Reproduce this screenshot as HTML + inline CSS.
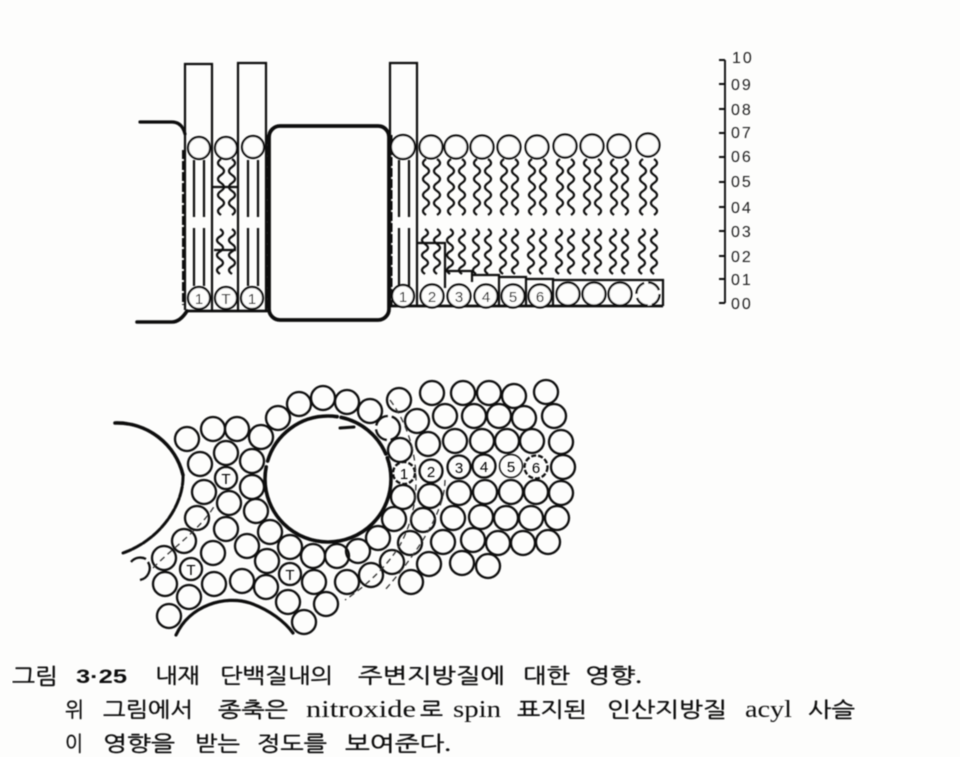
<!DOCTYPE html>
<html><head><meta charset="utf-8"><style>
html,body{margin:0;padding:0;background:#fdfdfc}
svg{display:block}
.k{font-family:"Liberation Serif","NanumGothic","Noto Sans CJK KR",serif;font-size:21px;fill:#111}
.s{font-family:"Liberation Sans",sans-serif;font-size:16px;fill:#222}
.n{font-family:"Liberation Sans",sans-serif;font-size:15px;fill:#000;text-anchor:middle}
</style></head><body>
<svg width="960" height="757" viewBox="0 0 960 757" xmlns="http://www.w3.org/2000/svg">
<defs>
<filter id="soft" x="0" y="0" width="100%" height="100%"><feGaussianBlur stdDeviation="0.45"/></filter>
<path id="ua" d="M0 0q-6 4 0 8t0 8t0 8t0 8t0 8t0 8t0 8" fill="none" stroke="#111" stroke-width="2.200"/>
<path id="ub" d="M0 0q6 4 0 8t0 8t0 8t0 8t0 8t0 8t0 8" fill="none" stroke="#111" stroke-width="2.200"/>
<path id="l" d="M0 0q6 4 0 7.500t0 7.500t0 7.500t0 7.500t0 7.500t0 7.500" fill="none" stroke="#111" stroke-width="2.200"/>
<g id="t"><use href="#ua" x="-5" y="159"/><use href="#ub" x="6" y="159"/><use href="#l" x="-6" y="229"/><use href="#l" x="6" y="229"/></g>
<g id="b" fill="none" stroke="#111" stroke-width="2.200"><path d="M-5 160V217M5 160V217M-5 228V286M5 228V286"/></g>
</defs>
<rect width="960" height="757" fill="#fdfdfc"/>
<g filter="url(#soft)">

<!-- top diagram: straight / wavy tails -->
<use href="#b" x="199"/><use href="#t" x="226"/><use href="#b" x="253"/><use href="#b" x="404"/>
<use href="#t" x="431"/><use href="#t" x="456"/><use href="#t" x="482"/><use href="#t" x="509"/><use href="#t" x="537"/><use href="#t" x="565"/><use href="#t" x="592"/><use href="#t" x="619"/><use href="#t" x="648"/>

<!-- bars -->
<g fill="none" stroke="#111" stroke-width="2.200">
<path d="M185 310V64H212V310"/><path d="M238 310V63H266V310"/><path d="M390 306V63H417V306"/>
<path d="M213 187H237M214 250H236"/>
<path d="M417 243H445V288M445 271H472V282M472 275H499V306M499 277H526V306M526 279H553V306M553 280H663V306"/>
<path d="M187 311H268M390 306H663" stroke-width="2.800"/>
</g>
<!-- stippled boundaries -->
<g fill="none" stroke="#111" stroke-width="4" stroke-dasharray="9 2">
<path d="M184 150V305M267 135V308M390.500 135V306"/>
</g>
<!-- thick membrane outlines -->
<g fill="none" stroke="#111" stroke-linecap="round">
<path d="M140 122H172Q182 122 185 134" stroke-width="3.200"/>
<path d="M137 322H172Q180 322 187 311" stroke-width="3.600"/>
<rect x="269" y="126" width="120" height="194" rx="11" stroke-width="3.800"/>
</g>

<!-- head groups -->
<g fill="#fdfdfc" stroke="#111" stroke-width="2.200">
<circle cx="199" cy="148" r="11"/><circle cx="226" cy="148" r="11"/><circle cx="253" cy="147" r="11"/><circle cx="403" cy="147" r="12"/>
<circle cx="431" cy="147" r="11.500"/><circle cx="456" cy="147" r="11.500"/><circle cx="482" cy="147" r="11.500"/><circle cx="509" cy="147" r="11.500"/><circle cx="537" cy="147" r="11.500"/><circle cx="565" cy="146" r="11.500"/><circle cx="592" cy="146" r="11.500"/><circle cx="619" cy="146" r="11.500"/><circle cx="648" cy="145" r="11.500"/>
<circle cx="199" cy="298" r="11"/><circle cx="226" cy="298" r="11"/><circle cx="252" cy="298" r="11"/><circle cx="403" cy="296" r="11"/>
<circle cx="432" cy="296" r="11.500"/><circle cx="459" cy="296" r="11.500"/><circle cx="486" cy="296" r="11.500"/><circle cx="513" cy="296" r="11.500"/><circle cx="540" cy="296" r="11.500"/><circle cx="568" cy="294" r="11.500"/><circle cx="594" cy="294" r="11.500"/><circle cx="620" cy="294" r="11.500"/><circle cx="648" cy="294" r="11.500" stroke-dasharray="14 4"/>
</g>
<text class="n" x="199" y="304">1</text><text class="n" x="226" y="304">T</text><text class="n" x="252" y="304">1</text><text class="n" x="403" y="302">1</text><text class="n" x="432" y="302">2</text><text class="n" x="459" y="302">3</text><text class="n" x="486" y="302">4</text><text class="n" x="513" y="302">5</text><text class="n" x="540" y="302">6</text>

<!-- scale -->
<path d="M725 60V303M719 60H725M719 84H725M719 109H725M719 133H725M719 157H725M719 182H725M719 207H725M719 231H725M719 256H725M719 279H725M719 303H725" fill="none" stroke="#111" stroke-width="1.900"/>
<g letter-spacing="2">
<text class="s" x="732" y="63">10</text><text class="s" x="731" y="90">09</text><text class="s" x="731" y="115">08</text><text class="s" x="731" y="138">07</text><text class="s" x="731" y="162">06</text><text class="s" x="731" y="187">05</text><text class="s" x="731" y="213">04</text><text class="s" x="731" y="237">03</text><text class="s" x="731" y="262">02</text><text class="s" x="731" y="285">01</text><text class="s" x="731" y="309">00</text>
</g>

<!-- lower diagram: large proteins -->
<g fill="none" stroke="#111" stroke-linecap="round">
<path d="M115 423A68 68 0 0 1 183 475" stroke-width="3.600"/>
<path d="M183 475C184 505 160 540 123 553" stroke-width="3" stroke-dasharray="10 2"/>
<path d="M176 635C190 605 225 595 250 603C270 610 285 622 293 633" stroke-width="3.200"/>
<circle cx="328" cy="479" r="63" stroke-width="3.600" stroke-dasharray="210 6 90 4 60 4"/>
<path d="M340 428L354 427" stroke-width="3"/>
</g>
<!-- lower diagram: lipids -->
<g fill="none" stroke="#111" stroke-width="2.300">
<circle cx="187" cy="439" r="12"/><circle cx="213" cy="429" r="12"/><circle cx="237" cy="429" r="12"/><circle cx="261" cy="437" r="12"/><circle cx="278" cy="418" r="12"/><circle cx="299" cy="404" r="12"/><circle cx="323" cy="398" r="12"/><circle cx="347" cy="402" r="12"/>
<circle cx="200" cy="464" r="12"/><circle cx="226" cy="453" r="12"/><circle cx="252" cy="461" r="12"/><circle cx="226" cy="478" r="11"/><circle cx="252" cy="487" r="12"/><circle cx="204" cy="492" r="12"/><circle cx="229" cy="503" r="12"/><circle cx="256" cy="511" r="12"/><circle cx="197" cy="518" r="12"/><circle cx="226" cy="529" r="12"/><circle cx="270" cy="532" r="12"/><circle cx="184" cy="541" r="12"/><circle cx="247" cy="546" r="12"/><circle cx="213" cy="553" r="12"/><circle cx="290" cy="547" r="12"/><circle cx="164" cy="558" r="12"/><circle cx="267" cy="561" r="12"/><circle cx="313" cy="556" r="12"/><circle cx="337" cy="556" r="12"/><circle cx="191" cy="569" r="11"/><circle cx="290" cy="574" r="11"/><circle cx="165" cy="584" r="12"/><circle cx="214" cy="584" r="12"/><circle cx="242" cy="581" r="12"/><circle cx="266" cy="587" r="12"/><circle cx="314" cy="582" r="12"/><circle cx="347" cy="582" r="12"/><circle cx="189" cy="597" r="12"/><circle cx="288" cy="602" r="12"/><circle cx="326" cy="604" r="12"/><circle cx="169" cy="616" r="12"/><circle cx="304" cy="622" r="12"/>
<path d="M131 562A12 12 0 0 1 146 559M148 562A12 12 0 0 1 140 580"/>
<circle cx="370" cy="411" r="12"/><circle cx="399" cy="400" r="12"/><circle cx="432" cy="393" r="12"/><circle cx="463" cy="393" r="12"/><circle cx="489" cy="393" r="12"/><circle cx="514" cy="396" r="12"/><circle cx="546" cy="392" r="12"/>
<circle cx="388" cy="428" r="12" stroke-dasharray="16 4"/><circle cx="417" cy="421" r="12"/><circle cx="445" cy="416" r="12"/><circle cx="474" cy="416" r="12"/><circle cx="499" cy="416" r="12"/><circle cx="524" cy="418" r="12"/><circle cx="554" cy="416" r="12"/>
<circle cx="400" cy="450" r="12"/><circle cx="428" cy="444" r="12"/><circle cx="455" cy="441" r="12"/><circle cx="482" cy="441" r="12"/><circle cx="507" cy="441" r="12"/><circle cx="532" cy="441" r="12"/><circle cx="561" cy="442" r="12"/>
<circle cx="404" cy="473" r="11" stroke-dasharray="5 2"/><circle cx="431" cy="471" r="11.500"/><circle cx="459" cy="467" r="11.500"/><circle cx="484" cy="466" r="11.500"/><circle cx="511" cy="466" r="11.500" stroke-width="1.400"/><circle cx="536" cy="467" r="11.500" stroke-dasharray="5 2"/><circle cx="563" cy="467" r="12"/>
<circle cx="403" cy="497" r="12"/><circle cx="430" cy="496" r="12"/><circle cx="459" cy="493" r="12"/><circle cx="485" cy="492" r="12"/><circle cx="511" cy="492" r="12"/><circle cx="536" cy="492" r="12"/><circle cx="561" cy="493" r="12"/>
<circle cx="394" cy="519" r="12"/><circle cx="423" cy="520" r="12"/><circle cx="453" cy="518" r="12"/><circle cx="481" cy="517" r="12"/><circle cx="506" cy="518" r="12"/><circle cx="531" cy="518" r="12"/><circle cx="557" cy="518" r="12"/>
<circle cx="378" cy="538" r="12"/><circle cx="410" cy="543" r="12"/><circle cx="443" cy="542" r="12"/><circle cx="473" cy="540" r="12"/><circle cx="498" cy="543" r="12"/><circle cx="523" cy="543" r="12"/><circle cx="548" cy="542" r="12"/>
<circle cx="358" cy="551" r="12"/><circle cx="392" cy="562" r="12"/><circle cx="429" cy="564" r="12"/><circle cx="462" cy="563" r="12"/><circle cx="488" cy="566" r="12"/>
<circle cx="371" cy="575" r="12"/><circle cx="411" cy="582" r="12"/>
</g>
<!-- dashed annulus boundaries -->
<g fill="none" stroke="#333" stroke-width="1.300" stroke-dasharray="6 4">
<path d="M390 400C420 440 425 500 400 545C385 570 360 590 345 600"/>
<path d="M445 480C445 510 420 550 385 590"/>
<path d="M153 568C170 550 200 530 215 505"/>
</g>
<text class="n" x="226" y="484">T</text><text class="n" x="191" y="575">T</text><text class="n" x="290" y="580">T</text>
<text class="n" x="404" y="479">1</text><text class="n" x="431" y="477">2</text><text class="n" x="459" y="473">3</text><text class="n" x="484" y="472">4</text><text class="n" x="511" y="472">5</text><text class="n" x="536" y="473">6</text>

<!-- caption -->
<g stroke="#111" stroke-width=".45">
<text class="k" x="12" y="684" textLength="46" lengthAdjust="spacingAndGlyphs" style="font-size:22px">그림</text>
<text class="k" x="76" y="683" textLength="51" lengthAdjust="spacingAndGlyphs" font-weight="bold" stroke="none" style="font-family:'Liberation Sans',sans-serif;font-size:19px;stroke:none">3·25</text>
<text class="k" x="155" y="683" textLength="45" lengthAdjust="spacingAndGlyphs">내재</text>
<text class="k" x="220" y="683" textLength="113" lengthAdjust="spacingAndGlyphs">단백질내의</text>
<text class="k" x="358" y="683" textLength="147" lengthAdjust="spacingAndGlyphs">주변지방질에</text>
<text class="k" x="523" y="683" textLength="47" lengthAdjust="spacingAndGlyphs">대한</text>
<text class="k" x="585" y="683" textLength="57" lengthAdjust="spacingAndGlyphs">영향.</text>
<text class="k" x="65" y="717" textLength="19" lengthAdjust="spacingAndGlyphs">위</text>
<text class="k" x="103" y="717" textLength="90" lengthAdjust="spacingAndGlyphs">그림에서</text>
<text class="k" x="218" y="717" textLength="70" lengthAdjust="spacingAndGlyphs">종축은</text>
<text class="k" x="306" y="717" textLength="110" lengthAdjust="spacingAndGlyphs" style="font-size:24px;stroke:none">nitroxide</text>
<text class="k" x="420" y="717" textLength="23" lengthAdjust="spacingAndGlyphs">로</text>
<text class="k" x="453" y="717" textLength="48" lengthAdjust="spacingAndGlyphs" style="font-size:24px;stroke:none">spin</text>
<text class="k" x="517" y="717" textLength="70" lengthAdjust="spacingAndGlyphs">표지된</text>
<text class="k" x="607" y="717" textLength="120" lengthAdjust="spacingAndGlyphs">인산지방질</text>
<text class="k" x="745" y="717" textLength="47" lengthAdjust="spacingAndGlyphs" style="font-size:24px;stroke:none">acyl</text>
<text class="k" x="808" y="717" textLength="47" lengthAdjust="spacingAndGlyphs">사슬</text>
<text class="k" x="65" y="751" textLength="18" lengthAdjust="spacingAndGlyphs">이</text>
<text class="k" x="103" y="751" textLength="72" lengthAdjust="spacingAndGlyphs">영향을</text>
<text class="k" x="195" y="751" textLength="45" lengthAdjust="spacingAndGlyphs">받는</text>
<text class="k" x="257" y="751" textLength="70" lengthAdjust="spacingAndGlyphs">정도를</text>
<text class="k" x="345" y="751" textLength="106" lengthAdjust="spacingAndGlyphs">보여준다.</text>
</g>
</g>
</svg>
</body></html>
